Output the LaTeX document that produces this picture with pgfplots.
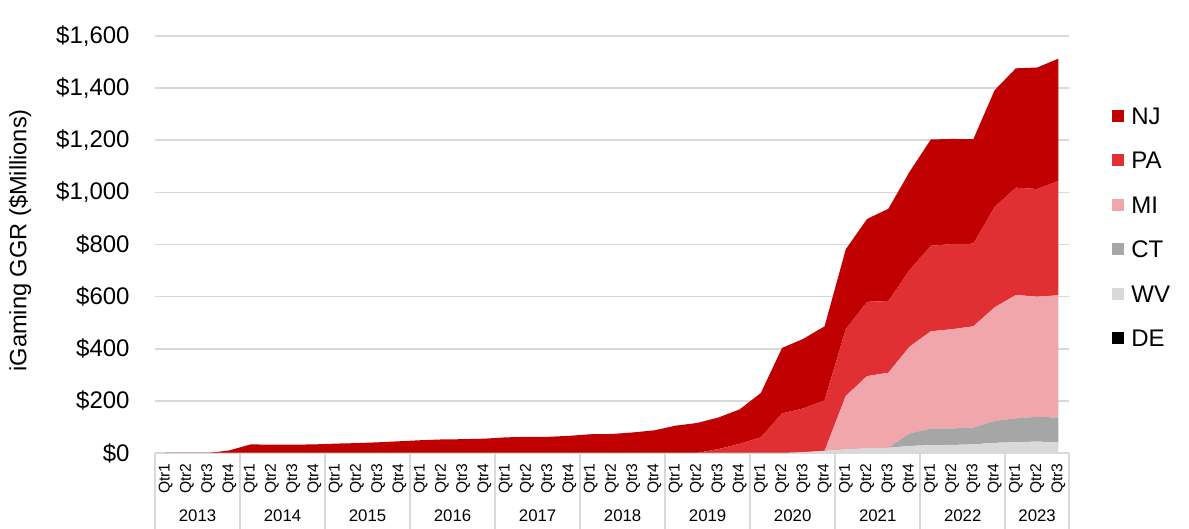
\documentclass[border=0pt]{standalone}
\usepackage{pgfplots}
\pgfplotsset{compat=1.18}
\usepackage{pgfplotstable}
\usepackage{fontspec}
\setmainfont{Liberation Sans}
\definecolor{cNJ}{HTML}{C00000}
\definecolor{cPA}{HTML}{E03034}
\definecolor{cMI}{HTML}{F0A6AA}
\definecolor{cCT}{HTML}{A6A6A6}
\definecolor{cWV}{HTML}{D9D9D9}
\definecolor{cDE}{HTML}{000000}
\definecolor{gridc}{HTML}{D9D9D9}

\pgfplotstableread{
x DE WV CT MI PA NJ
0 0 0 0 0 0 0
1 0 0 0 0 0 0
2 0 0 0 0 0 0
3 0 0 0 0 0 10
4 0 0 0 0 0 33
5 0 0 0 0 0 32
6 0 0 0 0 0 32
7 0 0 0 0 0 33
8 0 0 0 0 0 36
9 0 0 0 0 0 38
10 0 0 0 0 0 41
11 0 0 0 0 0 45
12 0 0 0 0 0 49
13 0 0 0 0 0 52
14 0 0 0 0 0 53
15 0 0 0 0 0 55
16 0 0 0 0 0 60
17 0 0 0 0 0 62
18 0 0 0 0 0 62
19 0 0 0 0 0 66
20 0 0 0 0 0 72
21 0 0 0 0 0 73
22 0 0 0 0 0 79
23 0 0 0 0 0 87
24 0 0 0 0 0 105
25 0 0 0 0 0 115
26 0 0 0 0 15 121
27 0 0 0 0 35 132
28 0 0 0 0 60 170
29 0 0 0 0 152 251
30 0 3 0 0 168 267
31 0 8 0 0 194 284
32 0 14 0 205 256 307
33 0 18 0 277 285 318
34 0 20 0 288 275 354
35 0 27 48 333 294 377
36 0 30 64 373 328 408
37 0 31 63 381 327 403
38 0 33 65 388 317 401
39 0 39 84 436 385 448
40 0 41 92 473 412 458
41 0 44 95 461 413 466
42 0 40 96 469 439 469
}\data

\begin{document}
\begin{tikzpicture}
\begin{axis}[
  scale only axis, width=457pt, height=208.5pt,
  xmin=-0.5, xmax=42.5, ymin=0, ymax=1600,
  stack plots=y,
  clip=false,
  axis x line*=bottom, axis y line*=left,
  x axis line style={draw=gridc, line width=0.8pt, -},
  y axis line style={draw=none},
  major tick length=0pt,
  tick style={draw=none},
  ymajorgrids, grid style={draw=gridc, line width=0.8pt},
  ytick={0,200,...,1600},
  yticklabels={\$0,\$200,\$400,\$600,\$800,\$1{,}000,\$1{,}200,\$1{,}400,\$1{,}600},
  yticklabel style={font=\fontsize{12}{14}\selectfont, inner sep=0pt, anchor=east, xshift=-12.5pt},
  xtick={0,...,42},
  xticklabels={Qtr1,Qtr2,Qtr3,Qtr4,Qtr1,Qtr2,Qtr3,Qtr4,Qtr1,Qtr2,Qtr3,Qtr4,Qtr1,Qtr2,Qtr3,Qtr4,Qtr1,Qtr2,Qtr3,Qtr4,Qtr1,Qtr2,Qtr3,Qtr4,Qtr1,Qtr2,Qtr3,Qtr4,Qtr1,Qtr2,Qtr3,Qtr4,Qtr1,Qtr2,Qtr3,Qtr4,Qtr1,Qtr2,Qtr3,Qtr4,Qtr1,Qtr2,Qtr3},
  xticklabel style={font=\fontsize{7.8}{9}\selectfont, rotate=90, anchor=east, inner sep=0pt},
  xticklabel shift=5pt,
  ylabel={iGaming GGR (\$Millions)},
  ylabel style={font=\fontsize{11.8}{14}\selectfont, at={(axis description cs:-0.1477,0.51)}, anchor=center},
  legend image code/.code={\fill[#1] (0pt,-3pt) rectangle (6pt,3pt);},
  reverse legend,
  legend style={at={(axis description cs:1.047,0.542)}, anchor=west, draw=none, fill=none, inner sep=0pt,
    font=\fontsize{12}{14}\selectfont, row sep=13.6pt,
    nodes={inner sep=0pt, text height=8.6pt, text depth=0pt},
    /tikz/every odd column/.append style={column sep=3.5pt}},
  legend cell align=left,
]
\addlegendimage{fill=cDE, draw=none}
\addlegendentry{DE}
\addplot[fill=cDE, fill opacity=0, draw=none, forget plot] table[x=x, y=DE] {\data} \closedcycle;
\addplot[fill=cWV, draw=none] table[x=x, y=WV] {\data} \closedcycle;
\addlegendentry{WV}
\addplot[fill=cCT, draw=none] table[x=x, y=CT] {\data} \closedcycle;
\addlegendentry{CT}
\addplot[fill=cMI, draw=none] table[x=x, y=MI] {\data} \closedcycle;
\addlegendentry{MI}
\addplot[fill=cPA, draw=none] table[x=x, y=PA] {\data} \closedcycle;
\addlegendentry{PA}
\addplot[fill=cNJ, draw=none] table[x=x, y=NJ] {\data} \closedcycle;
\addlegendentry{NJ}

\coordinate (bl) at (rel axis cs:0,0);
\coordinate (tr) at (rel axis cs:1,1);
\draw[draw=gridc, line width=0.8pt] (rel axis cs:0,0) -- (rel axis cs:1,0);

\foreach \sx in {-0.5,3.5,7.5,11.5,15.5,19.5,23.5,27.5,31.5,35.5,39.5,42.5}{
  \edef\tmp{\noexpand\draw[draw=gridc, line width=0.8pt] (axis cs:\sx,0) -- ++(0pt,-38pt);}\tmp
}
\tikzset{yearlbl/.style={font=\fontsize{8.4}{10}\selectfont, anchor=center, yshift=-31.5pt, inner sep=0pt}}
\node[yearlbl] at (axis cs:1.5,0) {2013};
\node[yearlbl] at (axis cs:5.5,0) {2014};
\node[yearlbl] at (axis cs:9.5,0) {2015};
\node[yearlbl] at (axis cs:13.5,0) {2016};
\node[yearlbl] at (axis cs:17.5,0) {2017};
\node[yearlbl] at (axis cs:21.5,0) {2018};
\node[yearlbl] at (axis cs:25.5,0) {2019};
\node[yearlbl] at (axis cs:29.5,0) {2020};
\node[yearlbl] at (axis cs:33.5,0) {2021};
\node[yearlbl] at (axis cs:37.5,0) {2022};
\node[yearlbl] at (axis cs:41,0) {2023};
\end{axis}
\pgfresetboundingbox
\path[use as bounding box] ([xshift=-77.5pt,yshift=-38pt]bl) rectangle ([xshift=60pt,yshift=18pt]tr);
\end{tikzpicture}
\end{document}
